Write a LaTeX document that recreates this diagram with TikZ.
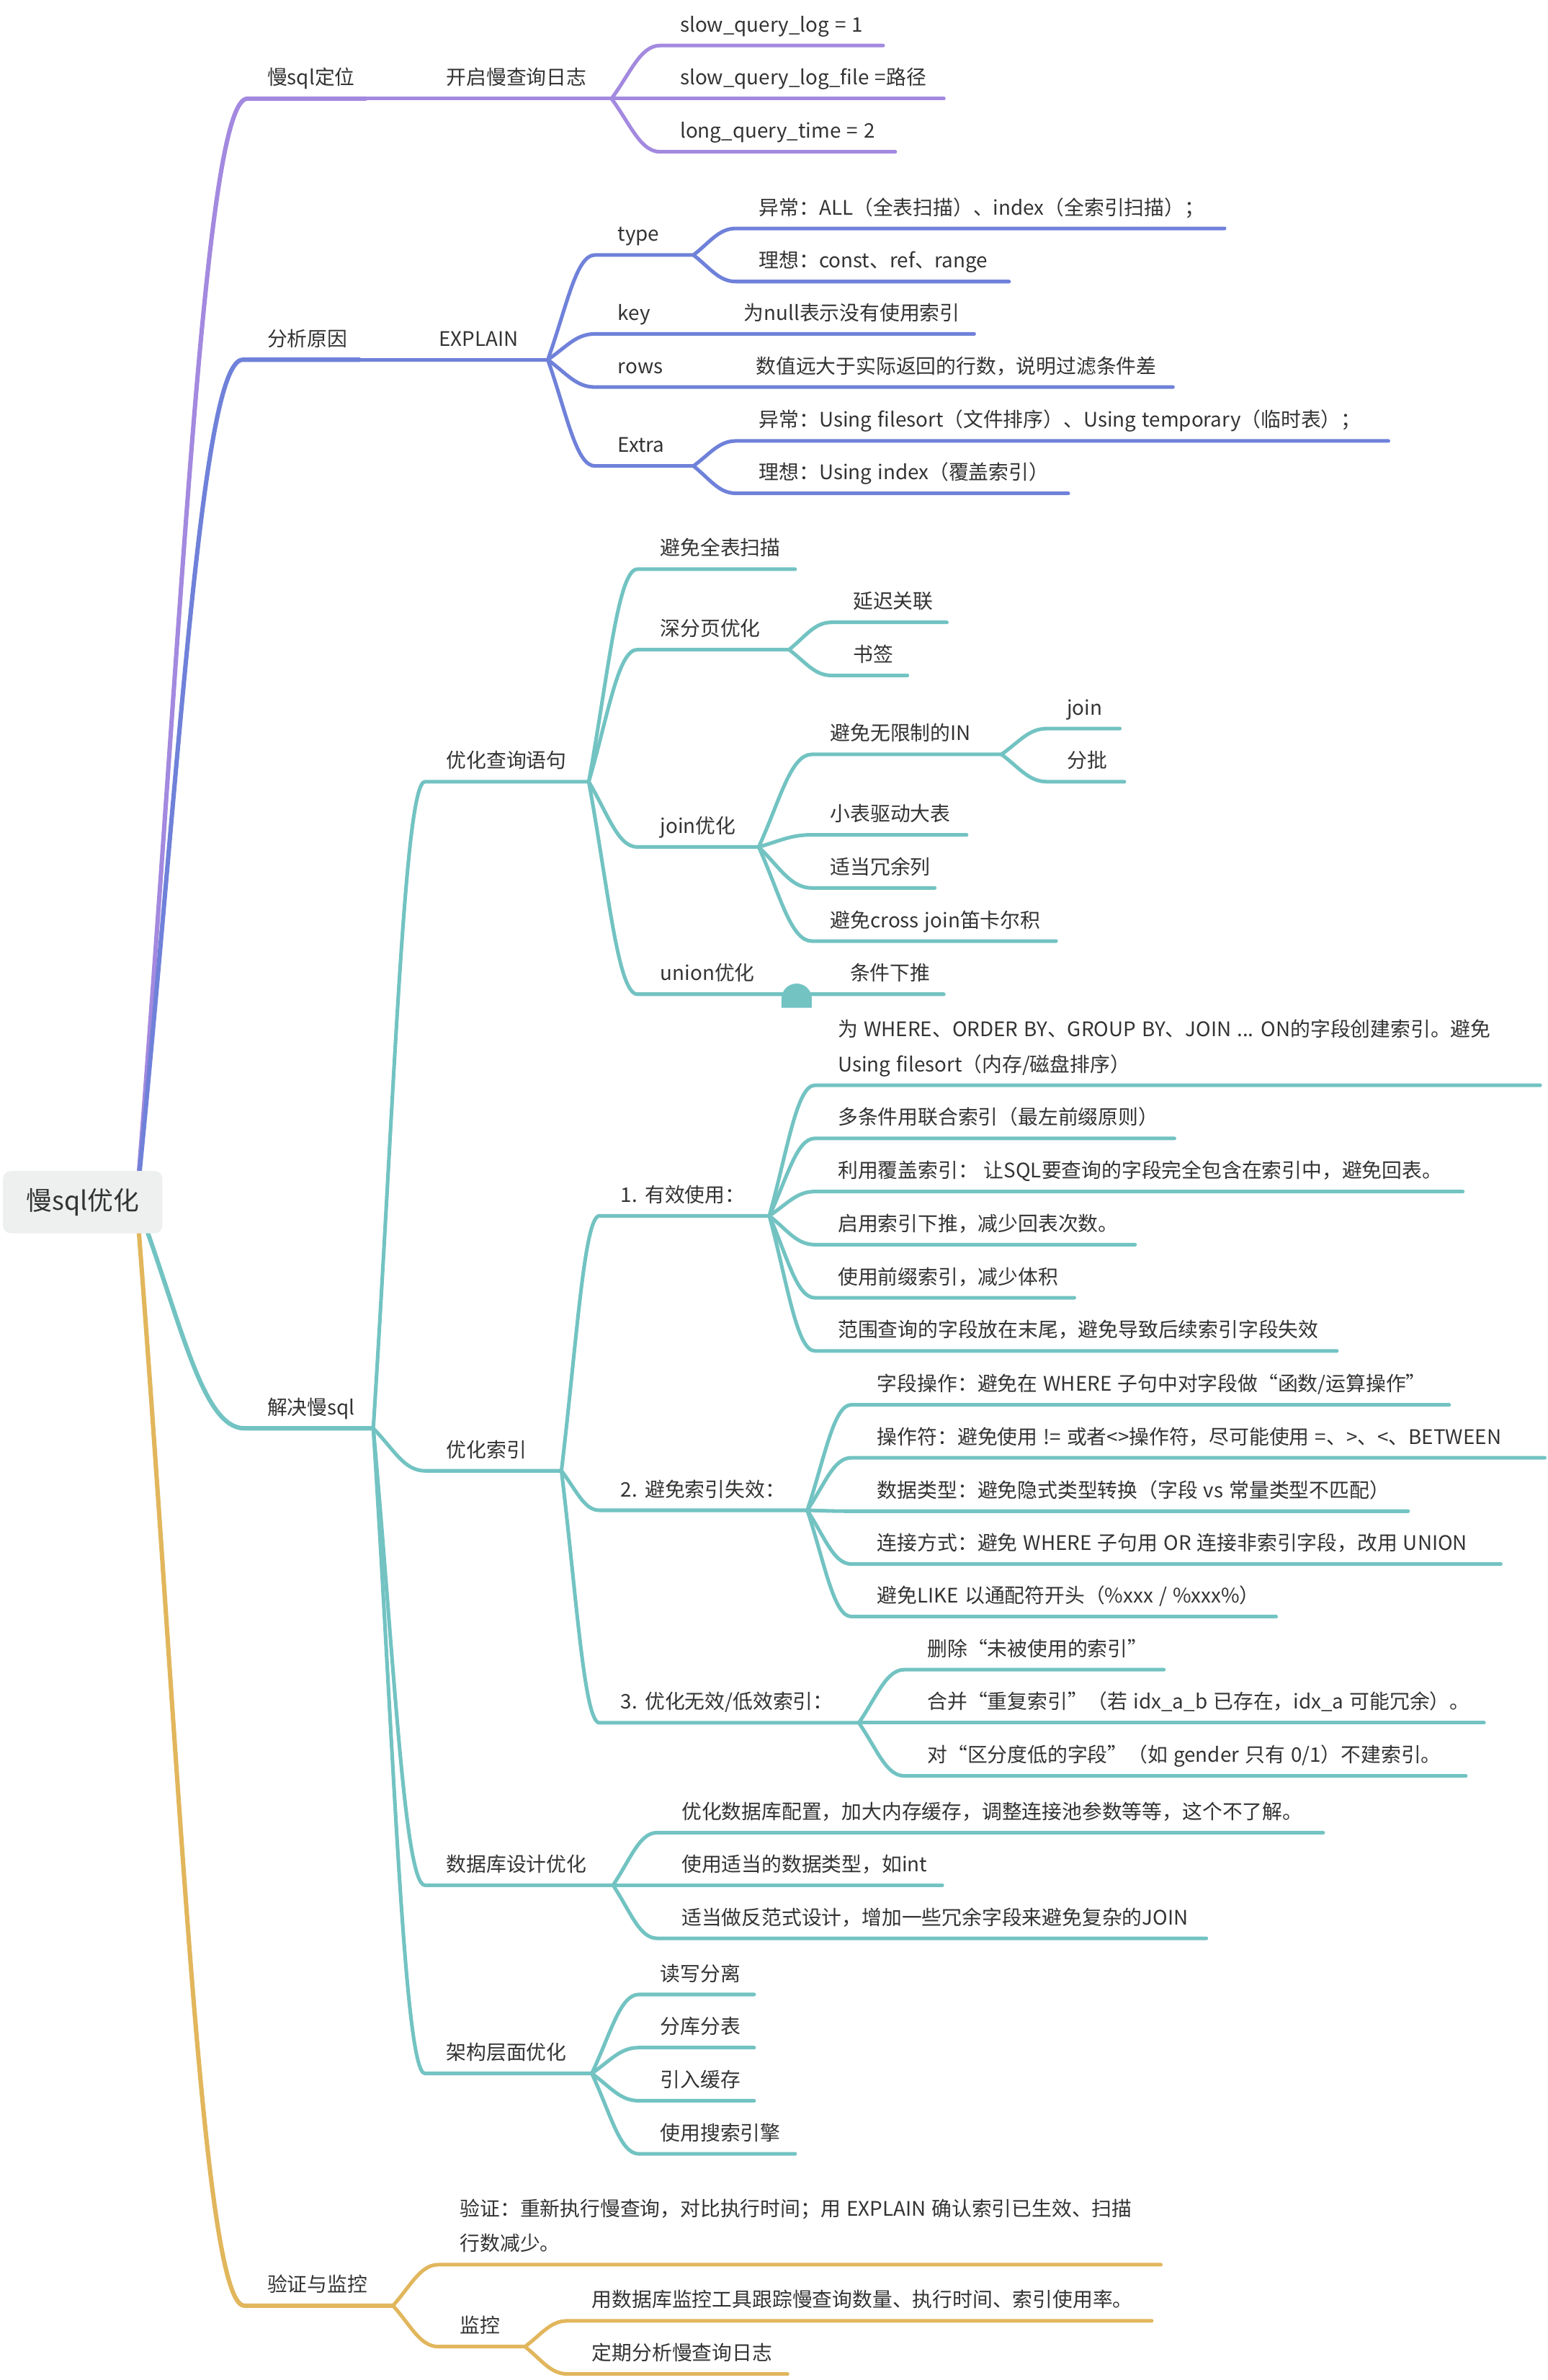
\documentclass[tikz,border=0pt]{standalone}
\usepackage{fontspec}
\setmainfont[WordSpace=1.3]{Noto Sans CJK SC}
\usetikzlibrary{calc}
\definecolor{cpur}{HTML}{A389DF}
\definecolor{cblu}{HTML}{6F81D9}
\definecolor{ctea}{HTML}{72C3C2}
\definecolor{cgol}{HTML}{E1B65C}
\definecolor{ctxt}{HTML}{333333}
\definecolor{croot}{HTML}{EEF0F0}
\newcommand\mmbranch[7]{%
  \coordinate (#4s) at (#5,#6);
  \coordinate (#4e) at (#7,#6);
  \draw[#1,#2] (#3) to[link] (#4s) -- (#4e);}
\begin{document}
\begin{tikzpicture}[x=1pt,y=-1pt,
  link/.style={to path={let \p1=(\tikztostart), \p2=(\tikztotarget) in
    .. controls ({\x1+0.4*(\x2-\x1)},{\y1+0.5*(\y2-\y1)}) and ({\x1+0.6*(\x2-\x1)},{\y2}) .. (\tikztotarget)}},
  lone/.style={line width=2.9pt, line cap=round},
  ltwo/.style={line width=2.4pt, line cap=round},
  txt/.style={anchor=base west, inner sep=0pt, text=ctxt, font=\fontsize{13.2}{16}\selectfont},
  rootbox/.style={fill=croot, rounded corners=5pt, minimum width=105pt, minimum height=41pt, inner sep=0pt, text=ctxt, font=\fontsize{17}{20}\selectfont}]
\fill[white] (0,0) rectangle (1020,1568);
\useasboundingbox (0,0) rectangle (1020,1568);
\coordinate (root0) at (90,792);

% ---------- purple: 慢sql定位
\mmbranch{cpur}{lone}{root0}{dw}{163}{65}{241}
\mmbranch{cpur}{ltwo}{dwe}{kq}{241}{65}{403}
\mmbranch{cpur}{ltwo}{kqe}{sqa}{435}{30}{582}
\mmbranch{cpur}{ltwo}{kqe}{sqb}{435}{65}{622}
\mmbranch{cpur}{ltwo}{kqe}{sqc}{435}{100}{590}

% ---------- blue: 分析原因
\mmbranch{cblu}{lone}{root0}{yy}{160}{237}{237}
\mmbranch{cblu}{ltwo}{yye}{ex}{237}{237}{361}
\mmbranch{cblu}{ltwo}{exe}{ty}{392}{168}{457}
\mmbranch{cblu}{ltwo}{tye}{tya}{485}{150.5}{807}
\mmbranch{cblu}{ltwo}{tye}{tyb}{485}{185.5}{665}
\mmbranch{cblu}{ltwo}{exe}{ky}{392}{220}{642}
\mmbranch{cblu}{ltwo}{exe}{rw}{392}{255}{773}
\mmbranch{cblu}{ltwo}{exe}{xt}{392}{307}{457}
\mmbranch{cblu}{ltwo}{xte}{xta}{485}{290.5}{915}
\mmbranch{cblu}{ltwo}{xte}{xtb}{485}{325}{704}

% ---------- teal: 解决慢sql
\mmbranch{ctea}{lone}{root0}{jj}{161}{941}{246}
% 优化查询语句
\mmbranch{ctea}{ltwo}{jje}{cx}{280}{515}{388}
\mmbranch{ctea}{ltwo}{cxe}{qb}{420}{375}{524}
\mmbranch{ctea}{ltwo}{cxe}{sf}{420}{428}{520}
\mmbranch{ctea}{ltwo}{sfe}{yc}{548}{410}{624}
\mmbranch{ctea}{ltwo}{sfe}{sq}{548}{445}{598}
\mmbranch{ctea}{ltwo}{cxe}{jo}{420}{558}{500}
\mmbranch{ctea}{ltwo}{joe}{wx}{535}{497}{660}
\mmbranch{ctea}{ltwo}{wxe}{jn}{690}{480}{738}
\mmbranch{ctea}{ltwo}{wxe}{fp}{690}{515}{741}
\mmbranch{ctea}{ltwo}{joe}{xb}{535}{550}{637}
\mmbranch{ctea}{ltwo}{joe}{ry}{535}{585}{616}
\mmbranch{ctea}{ltwo}{joe}{cj}{535}{620}{696}
\mmbranch{ctea}{ltwo}{cxe}{un}{420}{655}{622}
\fill[ctea] (515,664) -- (515,658) arc[start angle=180, end angle=360, radius=10] -- (535,664) -- cycle;
% 优化索引
\mmbranch{ctea}{ltwo}{jje}{sy}{280}{969}{370}
\mmbranch{ctea}{ltwo}{sye}{yx}{395}{801}{507}
\mmbranch{ctea}{ltwo}{yxe}{wh}{537}{715}{1015}
\mmbranch{ctea}{ltwo}{yxe}{dt}{537}{750}{774}
\mmbranch{ctea}{ltwo}{yxe}{fg}{537}{785}{964}
\mmbranch{ctea}{ltwo}{yxe}{xtui}{537}{820}{748}
\mmbranch{ctea}{ltwo}{yxe}{qz}{537}{855}{708}
\mmbranch{ctea}{ltwo}{yxe}{fw}{537}{890}{881}
\mmbranch{ctea}{ltwo}{sye}{sx}{395}{995}{532}
\mmbranch{ctea}{ltwo}{sxe}{zd}{561}{925.5}{955}
\mmbranch{ctea}{ltwo}{sxe}{cz}{561}{960.4}{1018}
\mmbranch{ctea}{ltwo}{sxe}{sj}{561}{995.6}{928}
\mmbranch{ctea}{ltwo}{sxe}{lj}{561}{1030.4}{989}
\mmbranch{ctea}{ltwo}{sxe}{lk}{561}{1065}{841}
\mmbranch{ctea}{ltwo}{sye}{wd}{395}{1135}{566}
\mmbranch{ctea}{ltwo}{wde}{sc}{596}{1100}{767}
\mmbranch{ctea}{ltwo}{wde}{hb}{596}{1135}{978}
\mmbranch{ctea}{ltwo}{wde}{qf}{596}{1170}{966}
% 数据库设计优化
\mmbranch{ctea}{ltwo}{jje}{db}{280}{1242}{404}
\mmbranch{ctea}{ltwo}{dbe}{pz}{433}{1207.4}{872}
\mmbranch{ctea}{ltwo}{dbe}{lx}{433}{1242}{621}
\mmbranch{ctea}{ltwo}{dbe}{ff}{433}{1277}{795}
% 架构层面优化
\mmbranch{ctea}{ltwo}{jje}{jg}{280}{1366}{390}
\mmbranch{ctea}{ltwo}{jge}{dx}{421}{1314}{497}
\mmbranch{ctea}{ltwo}{jge}{fk}{421}{1349}{497}
\mmbranch{ctea}{ltwo}{jge}{hc}{421}{1384}{497}
\mmbranch{ctea}{ltwo}{jge}{ss}{421}{1419}{524}

% ---------- gold: 验证与监控
\mmbranch{cgol}{lone}{root0}{yz}{161}{1519}{259}
\mmbranch{cgol}{ltwo}{yze}{yzv}{289}{1492}{765}
\mmbranch{cgol}{ltwo}{yze}{jk}{289}{1546}{346}
\mmbranch{cgol}{ltwo}{jke}{jka}{374}{1529}{759}
\mmbranch{cgol}{ltwo}{jke}{jkb}{374}{1564}{519}

% ---------- root
\node[rootbox] (root) at (54.5,792) {慢sql优化};

% ---------- texts
\node[txt] (tdw) at (176,56) {慢sql定位};
\node[txt] (tkq) at (294,56) {开启慢查询日志};
\node[txt] (tsqa) at (448,21) {slow\_query\_log = 1};
\node[txt] (tsqb) at (448,56) {slow\_query\_log\_file =路径};
\node[txt] (tsqc) at (448,91) {long\_query\_time = 2};

\node[txt] (tyy) at (176,228) {分析原因};
\node[txt] (tex) at (289,228) {EXPLAIN};
\node[txt] (tty) at (407,159) {type};
\node[txt] (ttya) at (500,141.5) {异常：ALL（全表扫描）、index（全索引扫描）；};
\node[txt] (ttyb) at (500,176.5) {理想：const、ref、range};
\node[txt] (tky) at (407,211) {key};
\node[txt] (tkyv) at (490,211) {为null表示没有使用索引};
\node[txt] (trw) at (407,246) {rows};
\node[txt] (trwv) at (498,246) {数值远大于实际返回的行数，说明过滤条件差};
\node[txt] (txt) at (407,298) {Extra};
\node[txt] (txta) at (500,281.5) {异常：Using filesort（文件排序）、Using temporary（临时表）；};
\node[txt] (txtb) at (500,316) {理想：Using index（覆盖索引）};

\node[txt] (tjj) at (176,932) {解决慢sql};
\node[txt] (tcx) at (294,506) {优化查询语句};
\node[txt] (tqb) at (435,366) {避免全表扫描};
\node[txt] (tsf) at (435,419) {深分页优化};
\node[txt] (tyc) at (562,401) {延迟关联};
\node[txt] (tsq) at (562,436) {书签};
\node[txt] (tjo) at (435,549) {join优化};
\node[txt] (twx) at (547,488) {避免无限制的IN};
\node[txt] (tjn) at (703,471) {join};
\node[txt] (tfp) at (703,506) {分批};
\node[txt] (txb) at (547,541) {小表驱动大表};
\node[txt] (try) at (547,576) {适当冗余列};
\node[txt] (tcj) at (547,611) {避免cross join笛卡尔积};
\node[txt] (tun) at (435,646) {union优化};
\node[txt] (tunv) at (560,646) {条件下推};

\node[txt] (tsy) at (294,960) {优化索引};
\node[txt] (tyx) at (409,792) {1. 有效使用：};
\node[txt] (twha) at (552,683) {为 WHERE、ORDER BY、GROUP BY、JOIN ... ON的字段创建索引。避免};
\node[txt] (twhb) at (552,706) {Using filesort（内存/磁盘排序）};
\node[txt] (tdt) at (552,741) {多条件用联合索引（最左前缀原则）};
\node[txt] (tfg) at (552,776) {利用覆盖索引： 让SQL要查询的字段完全包含在索引中，避免回表。};
\node[txt] (txtui) at (552,811) {启用索引下推，减少回表次数。};
\node[txt] (tqz) at (552,846) {使用前缀索引，减少体积};
\node[txt] (tfw) at (552,881) {范围查询的字段放在末尾，避免导致后续索引字段失效};
\node[txt] (tsx) at (409,986) {2. 避免索引失效：};
\node[txt] (tzd) at (578,916.5) {字段操作：避免在 WHERE 子句中对字段做“函数/运算操作”};
\node[txt] (tcz) at (578,951.4) {操作符：避免使用 != 或者<>操作符，尽可能使用 =、>、<、BETWEEN};
\node[txt] (tsj) at (578,986.6) {数据类型：避免隐式类型转换（字段 vs 常量类型不匹配）};
\node[txt] (tlj) at (578,1021.4) {连接方式：避免 WHERE 子句用 OR 连接非索引字段，改用 UNION};
\node[txt] (tlk) at (578,1056) {避免LIKE 以通配符开头（\%xxx / \%xxx\%）};
\node[txt] (twd) at (409,1126) {3. 优化无效/低效索引：};
\node[txt] (tsc) at (611,1091) {删除“未被使用的索引”};
\node[txt] (thb) at (611,1126) {合并“重复索引”（若 idx\_a\_b 已存在，idx\_a 可能冗余）。};
\node[txt] (tqf) at (611,1161) {对“区分度低的字段”（如 gender 只有 0/1）不建索引。};

\node[txt] (tdb) at (294,1233) {数据库设计优化};
\node[txt] (tpz) at (449,1198.4) {优化数据库配置，加大内存缓存，调整连接池参数等等，这个不了解。};
\node[txt] (tlx) at (449,1233) {使用适当的数据类型，如int};
\node[txt] (tff) at (449,1268) {适当做反范式设计，增加一些冗余字段来避免复杂的JOIN};

\node[txt] (tjg) at (294,1357) {架构层面优化};
\node[txt] (tdx) at (435,1305) {读写分离};
\node[txt] (tfk) at (435,1340) {分库分表};
\node[txt] (thc) at (435,1375) {引入缓存};
\node[txt] (tss) at (435,1410) {使用搜索引擎};

\node[txt] (tyz) at (176,1510) {验证与监控};
\node[txt] (tyzva) at (303,1460) {验证：重新执行慢查询，对比执行时间；用 EXPLAIN 确认索引已生效、扫描};
\node[txt] (tyzvb) at (303,1483) {行数减少。};
\node[txt] (tjk) at (303,1537) {监控};
\node[txt] (tjka) at (390,1520) {用数据库监控工具跟踪慢查询数量、执行时间、索引使用率。};
\node[txt] (tjkb) at (390,1555) {定期分析慢查询日志};
\end{tikzpicture}
\end{document}
